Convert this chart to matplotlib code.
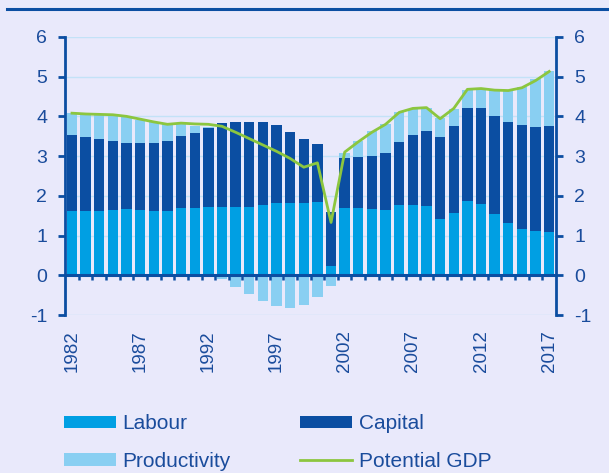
#!/usr/bin/env python3
"""Potential GDP growth decomposition: labour, capital, productivity, 1982-2017."""

import matplotlib
matplotlib.use("Agg")
import matplotlib.pyplot as plt  # noqa: E402
from matplotlib.lines import Line2D  # noqa: E402
import numpy as np  # noqa: E402

years = list(range(1982, 2018))

labour = [1.61, 1.63, 1.63, 1.65, 1.66, 1.65, 1.63, 1.63, 1.70, 1.70,
          1.72, 1.72, 1.71, 1.73, 1.78, 1.83, 1.82, 1.81, 1.85, 0.23,
          1.70, 1.70, 1.67, 1.64, 1.78, 1.78, 1.75, 1.41, 1.56, 1.88,
          1.80, 1.54, 1.31, 1.17, 1.11, 1.09]

capital = [1.92, 1.84, 1.79, 1.72, 1.68, 1.67, 1.69, 1.74, 1.80, 1.89,
           1.98, 2.12, 2.16, 2.14, 2.08, 1.95, 1.78, 1.62, 1.46, 1.37,
           1.26, 1.28, 1.34, 1.43, 1.58, 1.74, 1.89, 2.07, 2.19, 2.32,
           2.40, 2.48, 2.54, 2.61, 2.63, 2.66]

productivity = [0.56, 0.59, 0.63, 0.67, 0.66, 0.60, 0.53, 0.43, 0.32, 0.17,
                0.03, -0.10, -0.29, -0.48, -0.65, -0.77, -0.82, -0.75, -0.55, -0.28,
                0.12, 0.40, 0.62, 0.75, 0.75, 0.67, 0.57, 0.47, 0.43, 0.46,
                0.48, 0.64, 0.82, 0.97, 1.19, 1.40]

potential_gdp = [4.08, 4.06, 4.05, 4.04, 4.00, 3.93, 3.86, 3.80, 3.83, 3.81,
                 3.80, 3.75, 3.60, 3.44, 3.28, 3.12, 2.94, 2.72, 2.83, 1.33,
                 3.10, 3.36, 3.60, 3.80, 4.10, 4.20, 4.22, 3.94, 4.20, 4.68,
                 4.70, 4.66, 4.65, 4.72, 4.90, 5.13]

label_years = [1982, 1987, 1992, 1997, 2002, 2007, 2012, 2017]

BG = "#e9e9fb"
DARK = "#0b4ea2"
LABOUR_C = "#009fe3"
PROD_C = "#89cff2"
GDP_C = "#8cc63f"
GRID_C = "#c3e2f7"
TEXT_C = "#1a4c9c"

plt.rcParams["font.family"] = ["Liberation Sans", "DejaVu Sans"]
plt.rcParams["axes.unicode_minus"] = False

fig = plt.figure(figsize=(6.09, 4.73), dpi=100, facecolor=BG)
ax = fig.add_axes([0.107, 0.334, 0.806, 0.588], facecolor=BG)

x = np.array(years)
lab = np.array(labour)
cap = np.array(capital)
prod = np.array(productivity)
prod_bottom = np.where(prod >= 0, lab + cap, 0.0)

w = 0.76
ax.bar(x, lab, w, color=LABOUR_C, zorder=2, label="Labour")
ax.bar(x, cap, w, bottom=lab, color=DARK, zorder=2, label="Capital")
ax.bar(x, prod, w, bottom=prod_bottom, color=PROD_C, zorder=2,
       label="Productivity")
ax.plot(x, potential_gdp, color=GDP_C, lw=2.0, zorder=4,
        solid_joinstyle="round", label="Potential GDP")

# zero line with small ticks between the years
ax.axhline(0, color=DARK, lw=2.2, zorder=3)
ax.vlines(x[:-1] + 0.5, -0.13, 0, color=DARK, lw=1.8, zorder=3)

ax.set_xlim(1981.5, 2017.5)
ax.set_ylim(-1, 6)
ax.set_yticks(range(-1, 7))
ax.yaxis.grid(True, color=GRID_C, lw=1.0, zorder=0)
ax.set_axisbelow(True)

ax.set_xticks(label_years)
ax.set_xticklabels([str(y) for y in label_years], rotation=90)
ax.tick_params(axis="x", length=0, pad=11, labelsize=13.5, colors=TEXT_C)
ax.tick_params(axis="y", direction="out", length=5, width=2, color=DARK,
               labelsize=14, labelcolor=TEXT_C, pad=8,
               right=True, labelright=True)

for side in ("top", "bottom"):
    ax.spines[side].set_visible(False)
for side in ("left", "right"):
    ax.spines[side].set_color(DARK)
    ax.spines[side].set_linewidth(2)

# rule across the top
fig.add_artist(Line2D([7 / 609, 1], [1 - 9 / 473, 1 - 9 / 473],
                      color=DARK, lw=2.2))

handles, labels = ax.get_legend_handles_labels()
order = [1, 3, 2, 0]  # Labour, Productivity | Capital, Potential GDP
leg = fig.legend([handles[i] for i in order], [labels[i] for i in order],
                 ncol=2, loc="upper left", bbox_to_anchor=(0.105, 0.124),
                 frameon=False, fontsize=15, handlelength=2.5,
                 handleheight=0.57, handletextpad=0.3, labelspacing=0.88,
                 columnspacing=3.35, borderpad=0, borderaxespad=0)
for t in leg.get_texts():
    t.set_color(TEXT_C)

fig.savefig("out.png", dpi=100, facecolor=BG)
